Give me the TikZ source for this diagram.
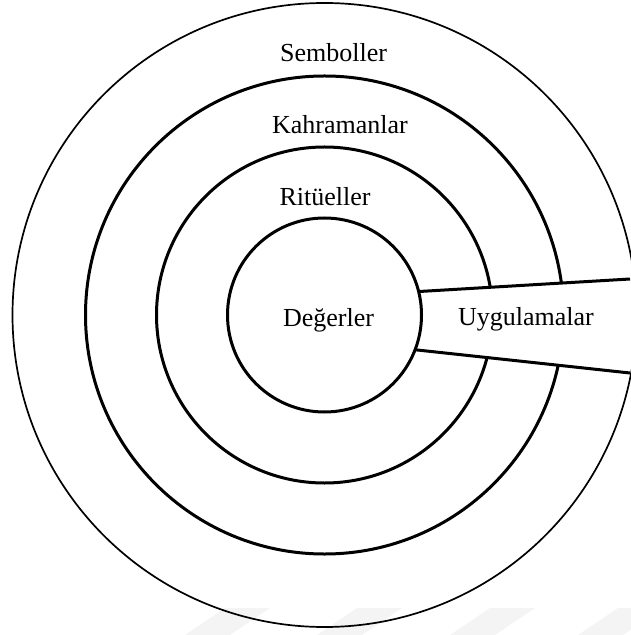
\documentclass[tikz,border=0pt]{standalone}
\usepackage{fontspec}
\setmainfont{Liberation Serif}
\usetikzlibrary{positioning}
\tikzset{
  ring/.style={draw=black, line width=1.5pt},
  rim/.style={draw=black, line width=0.85pt},
  core/.style={circle, draw=black, line width=1.5pt, inner sep=0pt, outer sep=0pt},
  lbl/.style={font=\fontsize{13pt}{15pt}\selectfont, anchor=base, inner sep=0pt},
  wmark/.style={fill=gray!9},
}

\begin{document}
\begin{tikzpicture}[x=0.5pt, y=-0.5pt]
  \useasboundingbox (0,0) rectangle (630,635);
  % faint bars at the bottom
  \foreach \a in {185,317,450,578}
    \fill[wmark] (\a,635) -- (\a+40,608) -- (\a+85,608) -- (\a+45,635) -- cycle;
  \coordinate (o) at (324.5,315);
  \draw[rim] (o) circle[radius=156pt];
  \node[core, minimum size=97pt] (deg) at (o) {};
  \coordinate (et) at (630,279);
  \coordinate (eb) at (630,373);
  % rings stop at the wedge
  \begin{scope}
    \clip (0,0) -- (630,0) -- (et) -- (deg.14) -- (deg.-21) -- (eb) -- (630,635) -- (0,635) -- cycle;
    \draw[ring] (o) circle[radius=119.5pt];
    \draw[ring] (o) circle[radius=84pt];
  \end{scope}
  \draw[ring] (deg.14) -- (et);
  \draw[ring] (deg.-21) -- (eb);
  \node[lbl] (sem) at (333.5,62) {Semboller};
  \node[lbl] (kah) at (340,134) {Kahramanlar};
  \node[lbl] (rit) at (325,206) {Ritüeller};
  \node[lbl] (val) at (328.5,327) {Değerler};
  \node[lbl] (uyg) at (526,325) {Uygulamalar};
\end{tikzpicture}
\end{document}
